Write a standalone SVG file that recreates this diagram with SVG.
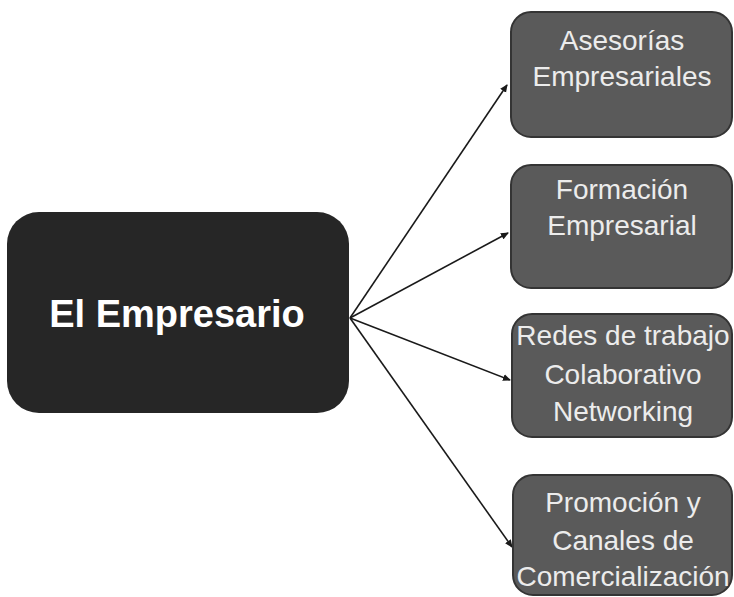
<svg xmlns="http://www.w3.org/2000/svg" width="734" height="597" viewBox="0 0 734 597">
<defs>
<marker id="arr" markerWidth="8" markerHeight="8" refX="7" refY="4" orient="auto" markerUnits="userSpaceOnUse">
<path d="M0,0.5 L8,4 L0,7.5 Z" fill="#1a1a1a"/>
</marker>
</defs>
<style>
.box{fill:#5a5a5a;stroke:#343434;stroke-width:2}
.lbl{font-family:"Liberation Sans",Arial,sans-serif;font-size:28px;fill:#ececec;text-anchor:middle}
.conn{stroke:#1a1a1a;stroke-width:1.6;fill:none}
</style>
<rect width="734" height="597" fill="#ffffff"/>
<g id="connectors">
<line class="conn" x1="350" y1="318" x2="507" y2="85" marker-end="url(#arr)"/>
<line class="conn" x1="350" y1="318" x2="508" y2="233" marker-end="url(#arr)"/>
<line class="conn" x1="350" y1="318" x2="510" y2="380" marker-end="url(#arr)"/>
<line class="conn" x1="350" y1="318" x2="512" y2="547" marker-end="url(#arr)"/>
</g>
<g id="main">
<rect x="7" y="212" width="342" height="201" rx="32" fill="#262626"/>
<text x="177" y="327" font-family="Liberation Sans,Arial,sans-serif" font-size="38" font-weight="bold" fill="#ffffff" text-anchor="middle">El Empresario</text>
</g>
<g id="n1">
<rect class="box" x="511" y="12" width="221" height="125" rx="20"/>
<text class="lbl" x="622" y="50">Asesorías</text>
<text class="lbl" x="622" y="86">Empresariales</text>
</g>
<g id="n2">
<rect class="box" x="511" y="165" width="221" height="123" rx="20"/>
<text class="lbl" x="622" y="199">Formación</text>
<text class="lbl" x="622" y="235">Empresarial</text>
</g>
<g id="n3">
<rect class="box" x="512" y="314" width="220" height="123" rx="20"/>
<text class="lbl" x="623" y="345">Redes de trabajo</text>
<text class="lbl" x="623" y="384">Colaborativo</text>
<text class="lbl" x="623" y="421">Networking</text>
</g>
<g id="n4">
<rect class="box" x="513" y="475" width="219" height="120" rx="20"/>
<text class="lbl" x="623" y="512">Promoción y</text>
<text class="lbl" x="623" y="550">Canales de</text>
<text class="lbl" x="623" y="586">Comercialización</text>
</g>
</svg>
